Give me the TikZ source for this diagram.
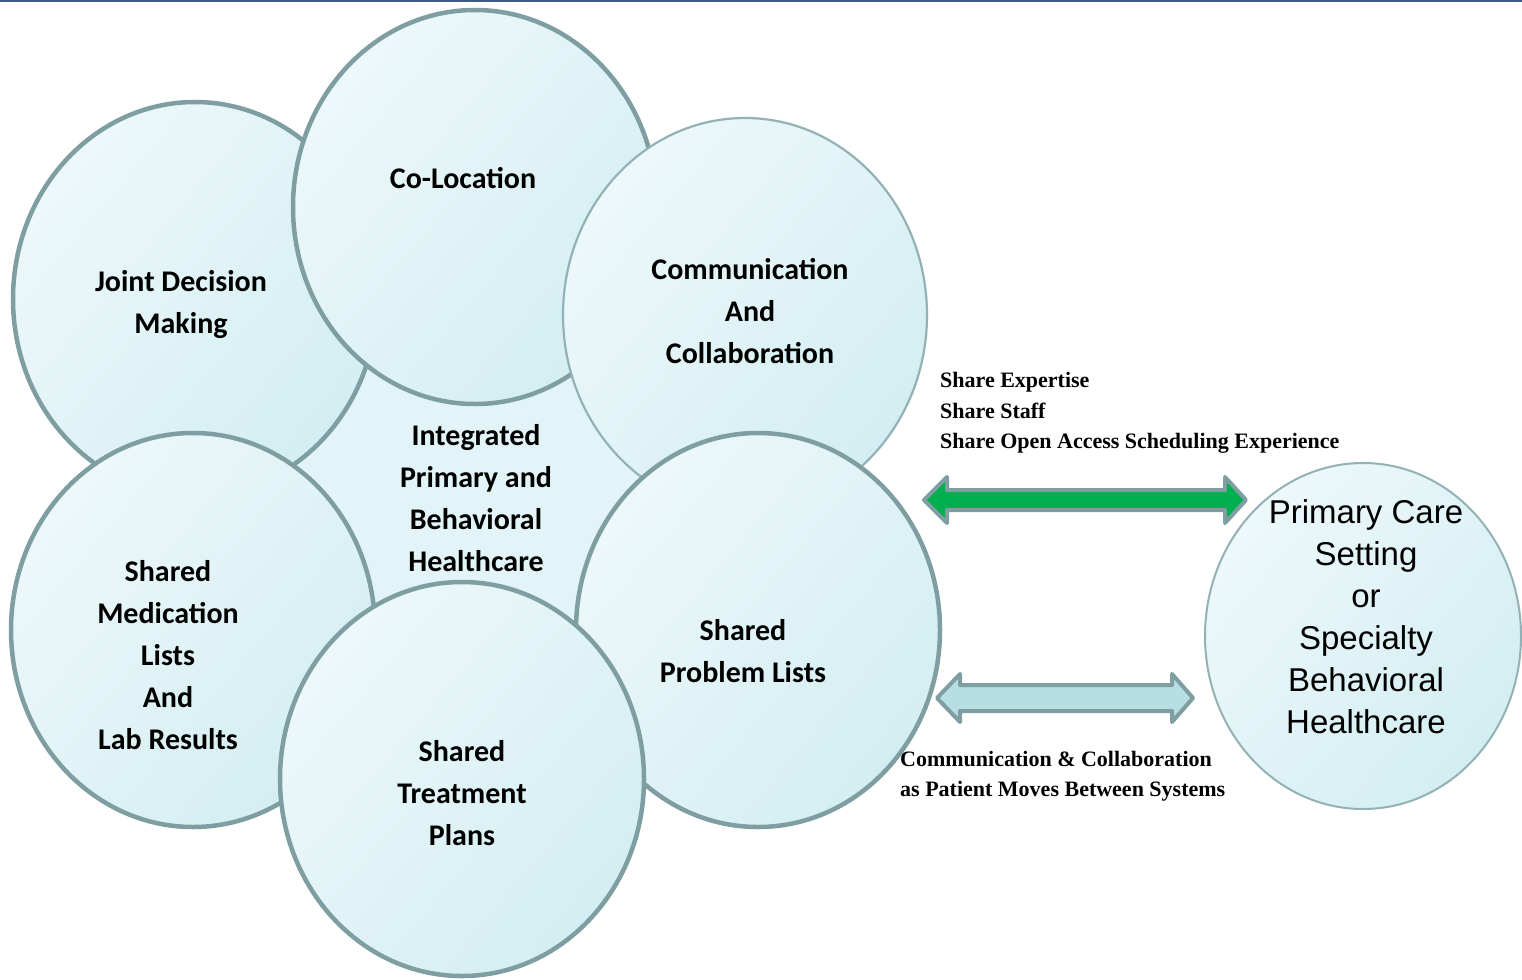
\documentclass[tikz,border=0pt]{standalone}
\usepackage{fontspec}
\usetikzlibrary{shapes.geometric}
\newfontfamily\labelfont{Carlito}
\newfontfamily\settingfont{Liberation Sans}
\newfontfamily\notefont{Liberation Serif}
\definecolor{rimgray}{HTML}{7F9EA2}
\definecolor{rimlight}{HTML}{93B2B6}
\definecolor{paleA}{HTML}{EDF8FA}
\definecolor{paleB}{HTML}{D3EEF2}
\definecolor{hubfill}{HTML}{E2F4F7}
\definecolor{arrowgreen}{HTML}{00B050}
\definecolor{arrowpale}{HTML}{B7DEE3}
\definecolor{topline}{HTML}{3D5A80}
\begin{document}
\begin{tikzpicture}[x=1bp,y=-1bp,
  bubble/.style={ellipse, draw=rimgray, line width=4.5bp,
    top color=paleA, bottom color=paleB, shading angle=50,
    minimum width=364bp, minimum height=394bp, inner sep=0pt,
    align=center, font=\labelfont\bfseries\fontsize{30bp}{42bp}\selectfont},
  thinbubble/.style={bubble, line width=2.2bp, draw=rimlight},
  setting/.style={ellipse, draw=rimlight, line width=2bp,
    top color=paleA, bottom color=paleB, shading angle=50,
    minimum width=316bp, minimum height=346bp, inner sep=0pt,
    align=center, font=\settingfont\fontsize{33bp}{42bp}\selectfont},
  note/.style={align=left, inner sep=0pt, anchor=west,
    font=\notefont\bfseries\fontsize{22bp}{30.5bp}\selectfont},
  dblarrow/.style={draw=rimgray, line width=4bp, line join=round}]

\useasboundingbox (0,0) rectangle (1522,979);
\fill[white] (0,0) rectangle (1522,979);
\draw[topline, line width=2bp] (0,1) -- (1522,1);

% hub area behind the ring of bubbles
\fill[hubfill] (470,500) circle [radius=225];

% ring of bubbles, back to front
\node[bubble] (joint) at (195,299) {};
\node[bubble] (coloc) at (475,207) {};
\node[thinbubble] (comm) at (745,315) {};
\node[bubble] (meds) at (193,630) {};
\node[bubble] (problems) at (758,630) {};
\node[bubble] (plans) at (462,779) {};

% bubble texts
\begin{scope}[every node/.style={align=center, inner sep=0pt,
    font=\labelfont\bfseries\fontsize{30bp}{42bp}\selectfont}]
\node (tjoint) at (181,305) {Joint Decision\\Making};
\node (tcoloc) at (463,178) {Co-Location};
\node (tcomm) at (750,311) {Communication\\And\\Collaboration};
\node (thub) at (476,498) {Integrated\\Primary and\\Behavioral\\Healthcare};
\node (tmeds) at (168,655) {Shared\\Medication\\Lists\\And\\Lab Results};
\node (tproblems) at (743,651) {Shared\\Problem Lists};
\node (tplans) at (462,793) {Shared\\Treatment\\Plans};
\end{scope}

% outside setting
\node[setting] (care) at (1363,636) {};
\node[align=center, inner sep=0pt, font=\settingfont\fontsize{33bp}{42bp}\selectfont]
  (tcare) at (1366,617) {Primary Care\\Setting\\or\\Specialty\\Behavioral\\Healthcare};

% two-way arrows between the ring and the setting
\coordinate (gl) at (924,500);
\coordinate (gr) at (1246,500);
\draw[dblarrow, fill=arrowgreen]
  (gl) -- (947,477) -- (947,490) -- (1225,490) -- (1225,477) -- (gr)
  -- (1225,523) -- (1225,510) -- (947,510) -- (947,523) -- cycle;
\coordinate (pl) at (937,698);
\coordinate (pr) at (1193,698);
\draw[dblarrow, fill=arrowpale]
  (pl) -- (960,674) -- (960,685) -- (1172,685) -- (1172,674) -- (pr)
  -- (1172,722) -- (1172,711) -- (960,711) -- (960,722) -- cycle;

% arrow notes
\node[note] (nshare) at (940,413) {Share Expertise\\Share Staff\\Share Open Access Scheduling Experience};
\node[note] (nmove) at (900,776) {Communication \& Collaboration\\as Patient Moves Between Systems};
\end{tikzpicture}
\end{document}
